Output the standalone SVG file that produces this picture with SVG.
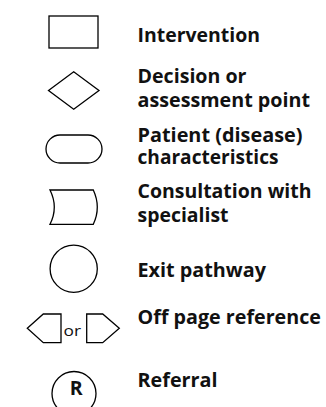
<svg xmlns="http://www.w3.org/2000/svg" width="326" height="407" viewBox="0 0 326 407">
<style>
.shape{fill:#fff;stroke:#000;stroke-width:1.3}
.lbl{font-family:"Open Sans","Liberation Sans",sans-serif;font-weight:bold;font-size:19.5px;fill:#111}
.small{font-family:"Open Sans","Liberation Sans",sans-serif;font-size:15px;fill:#111}
</style>
<rect width="326" height="407" fill="#fff"/>
<g id="intervention">
<rect class="shape" x="49" y="16" width="49" height="32"/>
<text class="lbl" x="137.5" y="42" textLength="122.5" lengthAdjust="spacingAndGlyphs">Intervention</text>
</g>
<g id="decision">
<polygon class="shape" points="48.5,90.5 73.7,71.7 99,90.5 73.7,109.3"/>
<text class="lbl" x="137.5" y="83" textLength="109" lengthAdjust="spacingAndGlyphs">Decision or</text>
<text class="lbl" x="137.5" y="107" textLength="172.5" lengthAdjust="spacingAndGlyphs">assessment point</text>
</g>
<g id="patient">
<rect class="shape" x="46" y="135" width="56" height="28" rx="14" ry="14"/>
<text class="lbl" x="137.5" y="141.5" textLength="165" lengthAdjust="spacingAndGlyphs">Patient (disease)</text>
<text class="lbl" x="137.5" y="163.5" textLength="141" lengthAdjust="spacingAndGlyphs">characteristics</text>
</g>
<g id="consultation">
<path class="shape" d="M50,190 L93.3,190 Q101.3,207.2 93.3,224.3 L50,224.3 Q58.6,207.2 50,190 Z"/>
<text class="lbl" x="137.5" y="198" textLength="174" lengthAdjust="spacingAndGlyphs">Consultation with</text>
<text class="lbl" x="137.5" y="222" textLength="91" lengthAdjust="spacingAndGlyphs">specialist</text>
</g>
<g id="exit">
<circle class="shape" cx="73.7" cy="268.7" r="23.6"/>
<text class="lbl" x="137.5" y="277" textLength="128.5" lengthAdjust="spacingAndGlyphs">Exit pathway</text>
</g>
<g id="offpage">
<polygon class="shape" points="27.3,328.3 43.3,314 61,314 61,342.7 43.3,342.7"/>
<text class="small" x="63.5" y="335.7" textLength="17.5" lengthAdjust="spacingAndGlyphs">or</text>
<polygon class="shape" points="86.7,314 102.7,314 119.3,328.3 102.7,342.7 86.7,342.7"/>
<text class="lbl" x="137.5" y="324" textLength="183.5" lengthAdjust="spacingAndGlyphs">Off page reference</text>
</g>
<g id="referral">
<circle class="shape" cx="74" cy="393.5" r="22"/>
<text class="lbl" x="76.3" y="395" text-anchor="middle" font-size="17px">R</text>
<text class="lbl" x="137.5" y="387" textLength="80" lengthAdjust="spacingAndGlyphs">Referral</text>
</g>
<g id="connectors"/>
</svg>
